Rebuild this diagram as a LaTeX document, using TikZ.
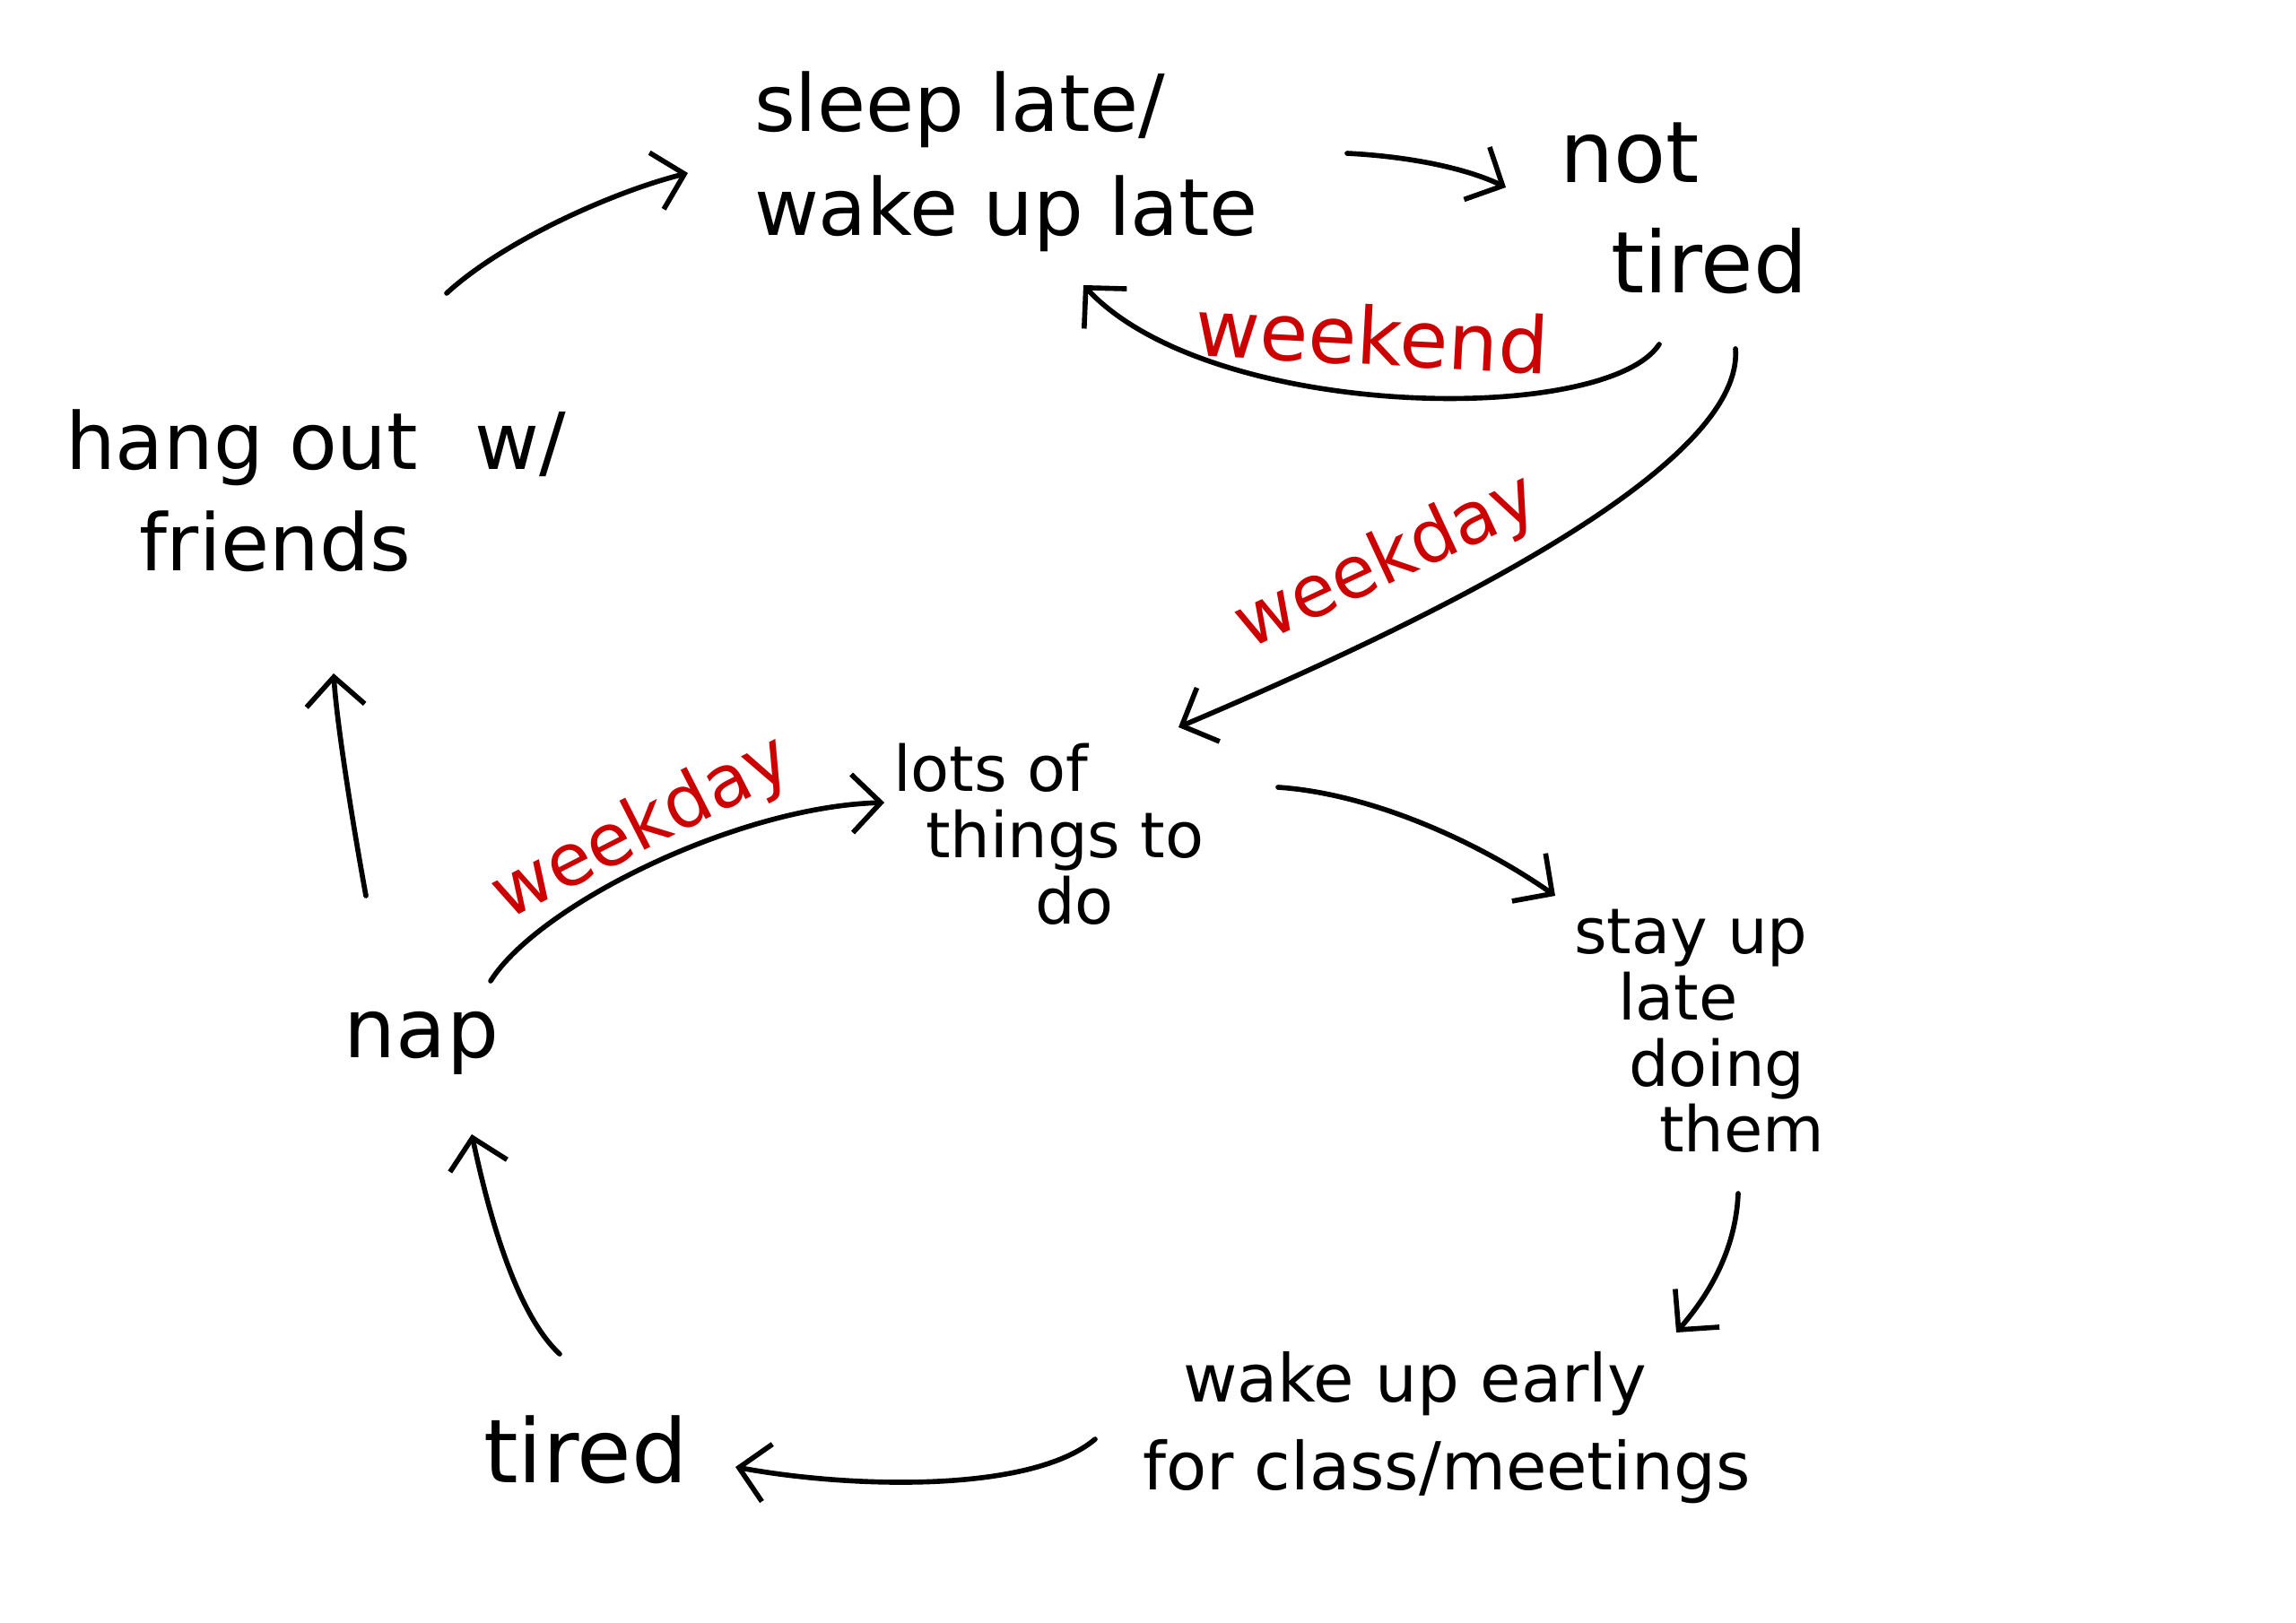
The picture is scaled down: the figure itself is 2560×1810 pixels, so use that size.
\documentclass[tikz,border=0pt]{standalone}
\usepackage{fontspec}
\setmainfont{DejaVu Sans}
\usetikzlibrary{arrows.meta}
\definecolor{hred}{RGB}{204,0,0}
\begin{document}
\begin{tikzpicture}[x=0.01cm,y=-0.01cm,
  lbl/.style={inner sep=0pt, outer sep=0pt, align=left, anchor=west},
  redlbl/.style={inner sep=0pt, text=hred, font={\fontsize{23}{28}\selectfont}},
  conn/.style={line width=1.6pt, line cap=round, -{Straight Barb[length=3.2mm,width=6.5mm,line width=1.6pt]}}]
\useasboundingbox[fill=white] (0,0) rectangle (2560,1810);

\node[lbl, font={\fontsize{25}{33}\selectfont}] (sl) at (841,180) {sleep late/\\wake up late};
\node[lbl, font={\fontsize{27}{35}\selectfont}] (nt) at (1739,232) {not\\\hspace{0.57cm}tired};
\node[lbl, font={\fontsize{25}{32}\selectfont}] (hang) at (73,547) {hang out\hspace{0.35cm} w/\\\hspace{0.82cm}friends};
\node[lbl, font={\fontsize{20}{21}\selectfont}] (lots) at (996,930) {lots of\\\hspace{0.36cm}things to\\\hspace{1.58cm}do};
\node[lbl, font={\fontsize{20}{21}\selectfont}] (stay) at (1755,1150) {stay up\\\hspace{0.49cm}late\\\hspace{0.61cm}doing\\\hspace{0.95cm}them};
\node[inner sep=0pt, font={\fontsize{26}{30}\selectfont}] (nap) at (470,1163) {nap};
\node[inner sep=0pt, font={\fontsize{28}{32}\selectfont}] (tired) at (653,1617) {tired};
\node[lbl, font={\fontsize{21}{28}\selectfont}] (wake) at (1274,1592) {\hspace{0.45cm}wake up early\\for class/meetings};

\node[redlbl, rotate=-3, font={\fontsize{25}{30}\selectfont}] (we) at (1530,374) {weekend};
\node[redlbl, rotate=25] (wd1) at (1547,628) {weekday};
\node[redlbl, rotate=27] (wd2) at (716,925) {weekday};

% connectors
\draw[conn] ([shift={(425,-220)}]hang.west) .. controls (560,270) and (680,215) .. ([shift={(-74,13)}]sl.west);
\draw[conn] ([shift={(661,-9)}]sl.west) .. controls (1580,175) and (1640,190) .. ([shift={(-60,-23)}]nt.west);
\draw[conn] ([shift={(111,152)}]nt.west) .. controls (1790,475) and (1350,470) .. ([shift={(367,138)}]sl.west);
\draw[conn] ([shift={(196,157)}]nt.west) .. controls (1945,520) and (1600,690) .. ([shift={(318,-119)}]lots.west);
\draw[conn] ([shift={(429,-52)}]lots.west) .. controls (1530,885) and (1650,940) .. ([shift={(-21,-151)}]stay.west);
\draw[conn] ([shift={(183,181)}]stay.west) .. controls (1935,1400) and (1900,1450) .. ([shift={(595,-106)}]wake.west);
\draw[conn] ([shift={(-53,13)}]wake.west) .. controls (1150,1665) and (950,1660) .. ([shift={(167,19)}]tired.center);
\draw[conn] ([shift={(-29,-107)}]tired.center) .. controls (570,1460) and (540,1330) .. ([shift={(56,102)}]nap.center);
\draw[conn] ([shift={(77,-69)}]nap.center) .. controls (600,1010) and (820,900) .. ([shift={(-10,-35)}]lots.west);
\draw[conn] ([shift={(-62,-164)}]nap.center) .. controls (390,900) and (375,800) .. ([shift={(299,204)}]hang.west);
\end{tikzpicture}
\end{document}
